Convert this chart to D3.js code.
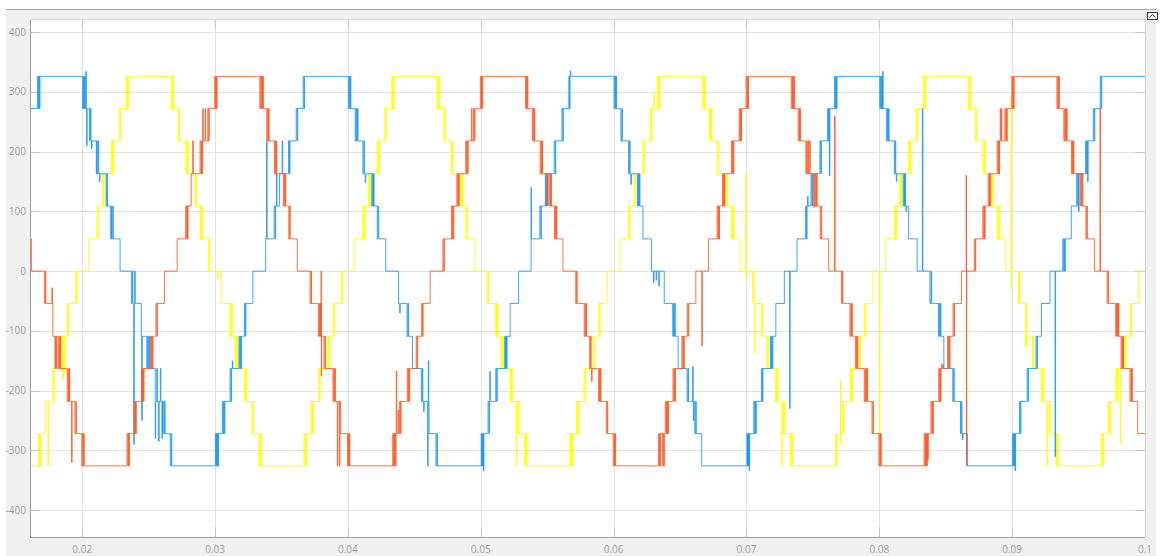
<!DOCTYPE html>
<html>
<head>
<meta charset="utf-8">
<script src="https://cdn.jsdelivr.net/npm/d3@7"></script>
<style>
  body { margin: 0; background: #fff; }
  svg { display: block; }
  text { font-family: 'Open Sans', 'Noto Sans', sans-serif; }
</style>
</head>
<body>
<svg id="chart" width="1164" height="556"></svg>
<script>
// axis ticks
const xTicks = [0.02, 0.03, 0.04, 0.05, 0.06, 0.07, 0.08, 0.09, 0.1]
const xTickLabels = ['0.02', '0.03', '0.04', '0.05', '0.06', '0.07', '0.08', '0.09', '0.1']
const yTicks = [-400, -300, -200, -100, 0, 100, 200, 300, 400]

// staircase breakpoints: [time in ms, volts]
const yellowSteps = [
  [16.07, -326], [16.70, -272], [17.22, -218], [17.80, -163], [18.47, -109], [18.88, -54],
  [19.52, 0], [20.48, 54], [21.12, 109], [21.53, 163], [22.20, 218], [22.78, 272], [23.30, 326], [26.70, 272], [27.22, 218], [27.80, 163], [28.47, 109], [28.88, 54],
  [29.52, 0], [30.48, -54], [31.12, -109], [31.53, -163], [32.20, -218], [32.78, -272], [33.30, -326], [36.70, -272], [37.22, -218], [37.80, -163], [38.47, -109], [38.88, -54],
  [39.52, 0], [40.48, 54], [41.12, 109], [41.53, 163], [42.20, 218], [42.78, 272], [43.30, 326], [46.70, 272], [47.22, 218], [47.80, 163], [48.47, 109], [48.88, 54],
  [49.52, 0], [50.48, -54], [51.12, -109], [51.53, -163], [52.20, -218], [52.78, -272], [53.30, -326], [56.70, -272], [57.22, -218], [57.80, -163], [58.47, -109], [58.88, -54],
  [59.52, 0], [60.48, 54], [61.12, 109], [61.53, 163], [62.20, 218], [62.78, 272], [63.30, 326], [66.70, 272], [67.22, 218], [67.80, 163], [68.47, 109], [68.88, 54],
  [69.52, 0], [70.48, -54], [71.12, -109], [71.53, -163], [72.20, -218], [72.78, -272], [73.30, -326], [76.70, -272], [77.22, -218], [77.80, -163], [78.47, -109], [78.88, -54],
  [79.52, 0], [80.48, 54], [81.12, 109], [81.53, 163], [82.20, 218], [82.78, 272], [83.30, 326], [86.70, 272], [87.22, 218], [87.80, 163], [88.47, 109], [88.88, 54],
  [89.52, 0], [90.48, -54], [91.12, -109], [91.53, -163], [92.20, -218], [92.78, -272], [93.30, -326], [96.70, -272], [97.22, -218], [97.80, -163], [98.47, -109], [98.88, -54],
  [99.52, 0], [100, 0]
]
const blueSteps = [
  [16.07, 218], [16.11, 272], [16.63, 326], [20.03, 272], [20.55, 218], [21.13, 163], [21.80, 109], [22.21, 54],
  [22.85, 0], [23.81, -54], [24.45, -109], [24.86, -163], [25.53, -218], [26.11, -272], [26.63, -326], [30.03, -272], [30.55, -218], [31.13, -163], [31.80, -109], [32.21, -54],
  [32.85, 0], [33.81, 54], [34.45, 109], [34.86, 163], [35.53, 218], [36.11, 272], [36.63, 326], [40.03, 272], [40.55, 218], [41.13, 163], [41.80, 109], [42.21, 54],
  [42.85, 0], [43.81, -54], [44.45, -109], [44.86, -163], [45.53, -218], [46.11, -272], [46.63, -326], [50.03, -272], [50.55, -218], [51.13, -163], [51.80, -109], [52.21, -54],
  [52.85, 0], [53.81, 54], [54.45, 109], [54.86, 163], [55.53, 218], [56.11, 272], [56.63, 326], [60.03, 272], [60.55, 218], [61.13, 163], [61.80, 109], [62.21, 54],
  [62.85, 0], [63.81, -54], [64.45, -109], [64.86, -163], [65.53, -218], [66.11, -272], [66.63, -326], [70.03, -272], [70.55, -218], [71.13, -163], [71.80, -109], [72.21, -54],
  [72.85, 0], [73.81, 54], [74.45, 109], [74.86, 163], [75.53, 218], [76.11, 272], [76.63, 326], [80.03, 272], [80.55, 218], [81.13, 163], [81.80, 109], [82.21, 54],
  [82.85, 0], [83.81, -54], [84.45, -109], [84.86, -163], [85.53, -218], [86.11, -272], [86.63, -326], [90.03, -272], [90.55, -218], [91.13, -163], [91.80, -109], [92.21, -54],
  [92.85, 0], [93.81, 54], [94.45, 109], [94.86, 163], [95.53, 218], [96.11, 272], [96.63, 326], [100, 326]
]
const orangeSteps = [
  [16.07, 54], [16.19, 0], [17.15, -54], [17.79, -109], [18.20, -163], [18.87, -218], [19.45, -272], [19.97, -326], [23.37, -272], [23.89, -218], [24.47, -163], [25.14, -109], [25.55, -54],
  [26.19, 0], [27.15, 54], [27.79, 109], [28.20, 163], [28.87, 218], [29.45, 272], [29.97, 326], [33.37, 272], [33.89, 218], [34.47, 163], [35.14, 109], [35.55, 54],
  [36.19, 0], [37.15, -54], [37.79, -109], [38.20, -163], [38.87, -218], [39.45, -272], [39.97, -326], [43.37, -272], [43.89, -218], [44.47, -163], [45.14, -109], [45.55, -54],
  [46.19, 0], [47.15, 54], [47.79, 109], [48.20, 163], [48.87, 218], [49.45, 272], [49.97, 326], [53.37, 272], [53.89, 218], [54.47, 163], [55.14, 109], [55.55, 54],
  [56.19, 0], [57.15, -54], [57.79, -109], [58.20, -163], [58.87, -218], [59.45, -272], [59.97, -326], [63.37, -272], [63.89, -218], [64.47, -163], [65.14, -109], [65.55, -54],
  [66.19, 0], [67.15, 54], [67.79, 109], [68.20, 163], [68.87, 218], [69.45, 272], [69.97, 326], [73.37, 272], [73.89, 218], [74.47, 163], [75.14, 109], [75.55, 54],
  [76.19, 0], [77.15, -54], [77.79, -109], [78.20, -163], [78.87, -218], [79.45, -272], [79.97, -326], [83.37, -272], [83.89, -218], [84.47, -163], [85.14, -109], [85.55, -54],
  [86.19, 0], [87.15, 54], [87.79, 109], [88.20, 163], [88.87, 218], [89.45, 272], [89.97, 326], [93.37, 272], [93.89, 218], [94.47, 163], [95.14, 109], [95.55, 54],
  [96.19, 0], [97.15, -54], [97.79, -109], [98.20, -163], [98.87, -218], [99.45, -272], [100, -272]
]

// long switching glitches: [time in ms, volts reached]
const yellowSpikes = [[17.42, -326], [52.66, -326], [57.77, -182], [63.03, 298], [69.94, 163], [70.61, -137], [72.65, -326],
  [77.08, -182], [77.10, -290], [80.01, -272], [89.92, 290], [89.94, -30], [91.00, -127], [91.10, -127], [92.63, -326], [98.11, -182], [98.13, -290]]
const blueSpikes = [[20.33, 210], [23.88, -290], [24.48, -250], [25.50, -280], [25.75, -285], [26.00, -280], [33.88, 217],
  [46.00, -326], [46.05, -150], [53.79, 140], [66.00, -250], [73.25, -230], [83.24, 272], [93.23, -310]]
const orangeSpikes = [[17.72, -28], [19.20, -320], [37.98, 0], [38.00, -175], [39.20, -326], [39.36, -326], [43.64, -167],
  [63.78, -326], [66.64, -125], [75.06, 107], [76.63, 260], [86.54, 160], [86.56, -326], [96.61, 272]]

// short chatter around the level changes: [time in ms, volts]
const yellowChatter = [
  [16.77, -326], [16.84, -326], [17.86, -218], [18.55, -180], [18.70, -170], [18.95, -109], [19.58, -54],
  [21.18, 54], [21.60, 109], [22.27, 163], [22.34, 163], [22.85, 218], [23.37, 272], [23.44, 272],
  [26.77, 326], [26.84, 326], [27.29, 272], [27.87, 218], [27.94, 218], [28.54, 163], [28.95, 109], [29.02, 109], [29.58, 54],
  [30.20, -12], [31.19, -54], [31.26, -54], [31.60, -109], [31.67, -109], [32.27, -163], [32.34, -163], [32.85, -218], [33.37, -272], [33.44, -272],
  [36.77, -326], [36.84, -326], [37.29, -272], [37.35, -272], [37.87, -218], [38.54, -163], [38.60, -163], [38.95, -109], [39.58, -54],
  [41.19, 54], [41.26, 54], [41.60, 109], [41.67, 109], [42.27, 163], [42.34, 163], [42.85, 218], [43.37, 272], [43.44, 272],
  [46.77, 326], [46.84, 326], [47.29, 272], [47.87, 218], [48.54, 163], [48.61, 163], [48.95, 109],
  [50.55, 0], [51.19, -54], [51.26, -54], [51.60, -109], [51.67, -109], [52.27, -163], [52.34, -163], [52.85, -218], [53.37, -272], [53.44, -272],
  [56.77, -326], [56.84, -326], [56.90, -326], [57.29, -272], [57.36, -272], [57.87, -218], [58.54, -163], [58.95, -109],
  [61.19, 54], [61.60, 109], [62.27, 163], [62.85, 218], [63.37, 272], [63.44, 272],
  [66.77, 326], [66.84, 326], [67.29, 272], [67.36, 272], [67.87, 218], [68.54, 163], [68.95, 109], [69.02, 109], [69.98, -15],
  [70.55, 0], [71.19, -54], [71.60, -109], [72.27, -163], [72.34, -163], [72.85, -218], [73.37, -272], [73.44, -272],
  [76.77, -326], [77.29, -272], [77.87, -218], [77.94, -218], [78.54, -163], [78.95, -109],
  [81.19, 54], [81.26, 54], [81.60, 109], [81.67, 109], [82.27, 163], [82.34, 163], [82.85, 218], [83.37, 272], [83.44, 272],
  [86.77, 326], [86.84, 326], [87.29, 272], [87.87, 218], [87.94, 218], [88.54, 163], [88.95, 109], [89.02, 109],
  [90.55, 0], [91.60, -109], [92.27, -163], [92.34, -163], [92.85, -218], [93.37, -272], [93.44, -272],
  [96.77, -326], [96.84, -326], [97.29, -272], [97.36, -272], [97.87, -218], [97.94, -218], [98.54, -163], [98.95, -109]
]
const blueChatter = [
  [16.70, 272], [16.78, 272], [20.10, 326], [20.18, 326], [20.27, 334], [20.62, 272], [20.70, 205],
  [21.06, 163], [21.20, 218], [21.30, 150], [21.86, 163], [22.15, 54], [22.30, 109], [23.72, -54], [23.95, 0],
  [24.93, -109], [25.02, -109], [25.62, -163], [25.88, -163], [26.20, -218], [26.70, -272],
  [30.08, -326], [30.15, -326], [30.22, -326], [30.62, -272], [30.70, -272], [31.20, -218], [31.30, -150], [31.86, -163], [31.95, -163], [32.28, -109],
  [34.52, 54], [34.62, 163], [35.05, 218], [35.60, 163], [36.18, 218], [36.70, 272],
  [40.10, 326], [40.18, 326], [40.62, 272], [40.72, 272], [41.20, 218], [41.30, 148], [41.86, 163], [41.93, 163], [42.28, 109],
  [43.90, -70], [44.52, -54], [45.60, -163], [45.70, -235], [46.70, -272],
  [50.08, -326], [50.14, -326], [50.20, -334], [50.62, -272], [50.68, -168], [51.20, -218], [51.86, -163], [51.94, -163],
  [54.52, 54], [54.93, 109], [55.02, 109], [55.60, 163], [56.18, 218], [56.68, 272], [56.74, 335],
  [60.10, 326], [60.18, 326], [60.62, 272], [61.20, 218], [61.30, 145], [61.86, 163], [61.94, 163],
  [63.00, -19], [63.20, -15], [63.40, -25], [64.52, -54], [64.60, -54], [65.60, -163], [65.95, -160], [66.18, -218],
  [70.08, -326], [70.15, -326], [70.20, -334], [70.62, -272], [70.70, -272], [71.20, -218], [71.86, -163], [71.95, -163],
  [74.52, 54], [74.60, 125], [74.93, 109], [75.60, 163], [76.18, 218], [76.24, 160], [76.70, 272], [76.78, 272],
  [80.10, 326], [80.18, 326], [80.25, 334], [80.62, 272], [80.70, 272], [81.20, 218], [81.28, 150], [81.86, 163], [81.94, 163], [82.00, 100],
  [83.90, 0], [84.52, -54], [84.60, -54], [85.60, -163], [86.18, -218], [86.26, -282],
  [90.08, -326], [90.15, -326], [90.22, -334], [90.62, -272], [91.20, -218], [91.86, -163],
  [93.88, 0], [93.96, 0], [94.93, 109], [95.00, 100], [95.45, 163], [95.60, 163], [95.68, 150], [96.18, 218], [96.70, 272]
]
const orangeChatter = [
  [17.22, 0], [17.95, -163], [18.05, -163], [18.27, -109], [18.35, -109], [18.94, -163], [19.02, -163], [19.52, -218],
  [20.04, -272], [20.11, -272], [23.44, -326], [23.51, -326], [23.96, -272], [24.03, -272], [24.54, -218], [24.61, -218],
  [25.21, -163], [25.28, -163], [25.62, -109],
  [27.86, 54], [27.93, 54], [28.32, 218], [28.94, 163], [29.02, 163], [29.07, 272], [29.25, 272], [29.52, 218],
  [30.04, 272], [30.11, 272], [33.44, 326], [33.52, 326], [33.60, 326], [33.96, 272], [34.03, 272], [34.54, 218], [34.61, 218],
  [35.21, 163], [35.28, 163], [35.62, 109],
  [37.22, 0], [37.86, -54], [37.93, -54], [38.27, -109], [38.94, -163], [39.02, -163], [40.04, -272], [40.11, -272],
  [43.44, -326], [43.51, -326], [43.58, -326], [43.78, -233], [43.96, -272], [44.54, -218], [44.61, -218], [45.21, -163], [45.62, -109],
  [47.22, 0], [47.86, 54], [47.93, 54], [48.27, 109], [48.34, 109], [48.94, 163], [49.01, 163], [49.30, 272], [49.52, 218],
  [50.04, 272], [50.11, 272], [53.44, 326], [53.51, 326], [53.96, 272], [54.03, 272], [54.54, 218], [54.61, 218], [54.92, 109],
  [55.21, 163], [55.28, 163], [55.62, 109], [55.69, 109],
  [57.22, 0], [57.86, -54], [57.93, -54], [58.27, -109], [58.34, -185], [58.94, -163], [59.01, -163], [59.52, -218],
  [60.04, -272], [60.11, -272], [63.44, -326], [63.51, -326], [63.70, -326], [63.96, -272], [64.03, -272], [64.10, -272],
  [64.54, -218], [64.61, -218], [65.21, -163], [65.28, -163], [65.62, -109],
  [67.86, 54], [67.93, 54], [68.27, 109], [68.34, 109], [68.94, 163], [69.01, 163], [69.52, 218], [69.59, 218],
  [70.04, 272], [70.11, 272], [73.44, 326], [73.51, 326], [73.58, 326], [73.96, 272], [74.03, 272],
  [74.54, 218], [74.64, 218], [74.76, 218], [75.21, 163], [75.28, 163], [75.62, 109],
  [77.22, 0], [77.86, -54], [77.93, -54], [78.27, -109], [78.34, -109], [78.94, -163], [79.01, -163], [79.08, -163], [79.52, -218],
  [80.04, -272], [80.11, -272], [83.44, -326], [83.51, -326], [83.58, -326], [83.65, -315], [83.96, -272], [84.03, -272],
  [84.54, -218], [84.61, -218], [84.70, -155], [84.80, -158], [85.21, -163], [85.28, -163], [85.62, -109],
  [87.22, 0], [87.86, 54], [87.93, 54], [88.27, 109], [88.34, 109], [88.94, 163], [89.01, 163], [89.10, 272], [89.18, 272],
  [89.52, 218], [89.59, 218], [90.04, 272], [90.11, 272], [93.44, 326], [93.51, 326], [93.96, 272], [94.03, 272], [94.10, 272],
  [94.54, 218], [94.61, 218], [95.21, 163], [95.28, 163], [95.62, 109],
  [97.22, 0], [97.86, -54], [97.93, -54], [97.99, -54], [98.27, -109], [98.34, -109], [98.94, -163], [99.01, -163]
]

const W = 1164, H = 556
const plot = { left: 30, top: 19, right: 1145, bottom: 537 }
const svg = d3.select('#chart')

// scope window chrome
svg.append('rect').attr('x', 6).attr('y', 10).attr('width', 1150).attr('height', H - 10).attr('fill', '#f0f0f0')
svg.append('line').attr('x1', 6).attr('x2', 1156).attr('y1', 9.5).attr('y2', 9.5).attr('stroke', '#a8a8a8')
svg.append('rect').attr('x', plot.left).attr('y', plot.top)
  .attr('width', plot.right - plot.left).attr('height', plot.bottom - plot.top).attr('fill', '#fff')

// little undock icon in the corner
const icon = svg.append('g').attr('transform', 'translate(1147,12)')
icon.append('rect').attr('x', 0.5).attr('y', 0.5).attr('width', 10).attr('height', 7).attr('fill', '#fff').attr('stroke', '#333')
icon.append('path').attr('d', 'M2.5 5.5 L5.5 2.5 L8.5 5.5').attr('fill', 'none').attr('stroke', '#333')

const x = d3.scaleLinear().domain([0.01607, 0.1]).range([plot.left, plot.right])
const y = d3.scaleLinear().domain([-445, 422]).range([plot.bottom, plot.top])

// grid
const grid = svg.append('g').attr('class', 'grid')
grid.selectAll('.gx').data(xTicks).enter().append('line')
  .attr('x1', (d) => Math.round(x(d)) + 0.5).attr('x2', (d) => Math.round(x(d)) + 0.5)
  .attr('y1', plot.top).attr('y2', plot.bottom)
  .attr('stroke', '#e2e2e2')
grid.selectAll('.gy').data(yTicks).enter().append('line')
  .attr('x1', plot.left).attr('x2', plot.right)
  .attr('y1', (d) => Math.round(y(d)) + 0.5).attr('y2', (d) => Math.round(y(d)) + 0.5)
  .attr('stroke', '#e2e2e2')

// inward tick marks on all four sides
const ticks = svg.append('g').attr('stroke', '#c4c4c4')
xTicks.forEach((d) => {
  const px = Math.round(x(d)) + 0.5
  ticks.append('line').attr('x1', px).attr('x2', px).attr('y1', plot.bottom).attr('y2', plot.bottom - 10)
  ticks.append('line').attr('x1', px).attr('x2', px).attr('y1', plot.top).attr('y2', plot.top + 10)
})
yTicks.forEach((d) => {
  const py = Math.round(y(d)) + 0.5
  ticks.append('line').attr('x1', plot.left).attr('x2', plot.left + 10).attr('y1', py).attr('y2', py)
  ticks.append('line').attr('x1', plot.right).attr('x2', plot.right - 10).attr('y1', py).attr('y2', py)
})

// frame
svg.append('line').attr('x1', plot.left + 0.5).attr('x2', plot.left + 0.5).attr('y1', plot.top).attr('y2', plot.bottom).attr('stroke', '#a0a0a0')
svg.append('line').attr('x1', plot.left).attr('x2', plot.right).attr('y1', plot.bottom + 0.5).attr('y2', plot.bottom + 0.5).attr('stroke', '#a0a0a0')
svg.append('line').attr('x1', plot.left).attr('x2', plot.right).attr('y1', plot.top + 0.5).attr('y2', plot.top + 0.5).attr('stroke', '#d6d6d6')
svg.append('line').attr('x1', plot.right + 0.5).attr('x2', plot.right + 0.5).attr('y1', plot.top).attr('y2', plot.bottom).attr('stroke', '#d0d0d0')

// tick labels
svg.append('g').selectAll('text').data(yTicks).enter().append('text')
  .attr('x', 26).attr('y', (d) => y(d) + 3.5)
  .attr('text-anchor', 'end').attr('font-size', 10).attr('fill', '#a0a0a0')
  .text((d) => d)
svg.append('g').selectAll('text').data(xTicks).enter().append('text')
  .attr('x', (d) => x(d)).attr('y', 552.5)
  .attr('text-anchor', 'middle').attr('font-size', 10).attr('fill', '#a0a0a0')
  .text((d, i) => xTickLabels[i])

// merge the staircase with its glitches; every glitch falls back to the running level
function levelAt(steps, t) {
  return steps.filter((d) => d[0] <= t).pop()[1]
}
function buildSeries(steps, glitches) {
  const pts = steps.map((d) => [d[0], d[1]])
  glitches.forEach((g) => {
    pts.push([g[0], g[1]], [g[0] + 0.04, levelAt(steps, g[0] + 0.04)])
  })
  return pts.sort((a, b) => a[0] - b[0])
}

svg.append('defs').append('clipPath').attr('id', 'clip')
  .append('rect').attr('x', plot.left + 1).attr('y', plot.top + 1)
  .attr('width', plot.right - plot.left - 1).attr('height', plot.bottom - plot.top - 1)

const line = d3.line()
  .x((d) => x(d[0] / 1000))
  .y((d) => y(d[1]))
  .curve(d3.curveStepAfter)

const series = [
  { name: 'c', color: '#ffff00', data: buildSeries(yellowSteps, yellowSpikes.concat(yellowChatter)) },
  { name: 'a', color: '#1795f0', data: buildSeries(blueSteps, blueSpikes.concat(blueChatter)) },
  { name: 'b', color: '#ff5722', data: buildSeries(orangeSteps, orangeSpikes.concat(orangeChatter)) },
]
svg.append('g').attr('clip-path', 'url(#clip)')
  .selectAll('path').data(series).enter().append('path')
  .attr('d', (d) => line(d.data))
  .attr('fill', 'none')
  .attr('stroke', (d) => d.color)
  .attr('stroke-width', 1)
  .attr('stroke-opacity', 0.85)
</script>
</body>
</html>
